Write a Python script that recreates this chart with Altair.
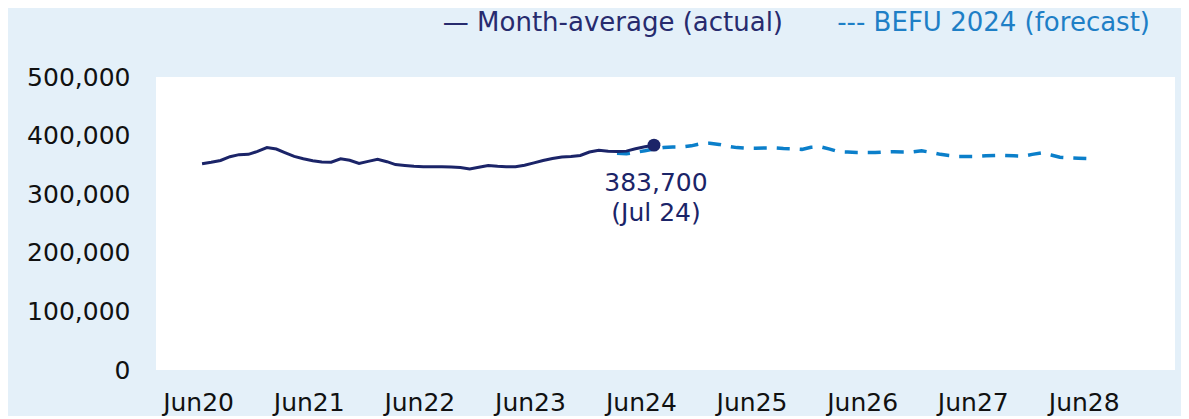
import altair as alt
import pandas as pd

# ---- data ----
actual_start = "2020-06-01"
actual_values = [
    352000, 354500, 357500, 364000, 367500, 368000, 373000, 379500, 377000, 371000,
    364500, 360500, 357000, 355000, 354500, 360500, 358000, 352500, 356000, 359500,
    355500, 350500, 349000, 347500, 347000, 347000, 347000, 346500, 345500, 343000,
    346000, 349000, 347500, 347000, 347000, 349500, 353500, 357500, 361000, 363500,
    364500, 366000, 372000, 375000, 373500, 373000, 373500, 377500, 381000, 383700,
]
forecast_start = "2024-03-01"
forecast_values = [
    370000, 369000, 371500, 374000, 377000, 379500, 380500, 380500, 382500, 386000,
    387000, 385000, 382000, 379500, 378500, 378500, 379000, 379000, 378000, 377500,
    376500, 380000, 381000, 377000, 372500, 372000, 371000, 371000, 371000, 372000,
    372500, 372000, 372000, 374000, 371500, 368000, 366000, 364500, 364500, 364500,
    365500, 366000, 366000, 365500, 365000, 368000, 370500, 367000, 363000, 362000,
    361500, 361000,
]
legend_labels = ["\u2014 Month-average (actual)", "--- BEFU 2024 (forecast)"]
annotation_text = "383,700\n(Jul 24)"
y_ticks = [0, 100000, 200000, 300000, 400000, 500000]
x_tick_years = [2020, 2021, 2022, 2023, 2024, 2025, 2026, 2027, 2028]

# ---- tables ----
actual_df = pd.DataFrame({
    "date": pd.date_range(actual_start, periods=len(actual_values), freq="MS").strftime("%Y-%m-%d"),
    "value": actual_values,
})
forecast_df = pd.DataFrame({
    "date": pd.date_range(forecast_start, periods=len(forecast_values), freq="MS").strftime("%Y-%m-%d"),
    "value": forecast_values,
})
last_df = actual_df.tail(1).assign(label=annotation_text)

FONT = "DejaVu Sans"
FS = 25
NAVY = "#1b2468"
BLUE = "#0b7fca"
BG = "#e4f0f9"

x_enc = alt.X(
    "date:T",
    title=None,
    scale=alt.Scale(
        domain=[alt.DateTime(year=2020, month=1, date=1), alt.DateTime(year=2029, month=3, date=16)],
        nice=False,
    ),
    axis=alt.Axis(
        values=[alt.DateTime(year=y, month=6, date=1) for y in x_tick_years],
        format="%b%y",
        ticks=False,
        domain=False,
        grid=False,
        labelFont=FONT,
        labelFontSize=FS,
        labelColor="#111111",
        labelPadding=20,
        labelOffset=-4,
    ),
)
y_enc = alt.Y(
    "value:Q",
    title=None,
    scale=alt.Scale(domain=[0, 500000], nice=False, zero=True),
    axis=alt.Axis(
        values=y_ticks,
        format=",d",
        ticks=False,
        domain=False,
        grid=False,
        labelFont=FONT,
        labelFontSize=FS,
        labelColor="#111111",
        labelPadding=26,
    ),
)

forecast_line = alt.Chart(forecast_df).mark_line(
    color=BLUE, strokeWidth=3.5, strokeDash=[13, 10]
).encode(x=x_enc, y=y_enc)

actual_line = alt.Chart(actual_df).mark_line(
    color=NAVY, strokeWidth=3
).encode(x=x_enc, y=y_enc)

dot = alt.Chart(last_df).mark_point(
    filled=True, shape="circle", size=165, color=NAVY, opacity=1
).encode(x=x_enc, y=y_enc)

annot = alt.Chart(last_df).mark_text(
    font=FONT, fontSize=FS, color=NAVY, align="center", baseline="top",
    dy=26, dx=2, lineBreak="\n", lineHeight=30,
).encode(x=x_enc, y=y_enc, text="label:N")

leg1 = alt.Chart(actual_df.head(1)).mark_text(
    text=legend_labels[0], font=FONT, fontSize=26, color="#272b6e",
    align="right", baseline="middle",
).encode(x=alt.value(627), y=alt.value(-54))

leg2 = alt.Chart(actual_df.head(1)).mark_text(
    text=legend_labels[1], font=FONT, fontSize=26, color="#1e7fc6",
    align="right", baseline="middle",
).encode(x=alt.value(994), y=alt.value(-54))

chart = alt.layer(forecast_line, actual_line, dot, annot, leg1, leg2).properties(
    width=1019,
    height=293,
    background=BG,
    padding={"left": 148, "top": 69, "right": 6, "bottom": 46},
    autosize=alt.AutoSizeParams(type="none"),
).configure_view(
    fill="white", stroke=None
)

chart.save("out.html", embed_options={"renderer": "svg", "actions": False})
